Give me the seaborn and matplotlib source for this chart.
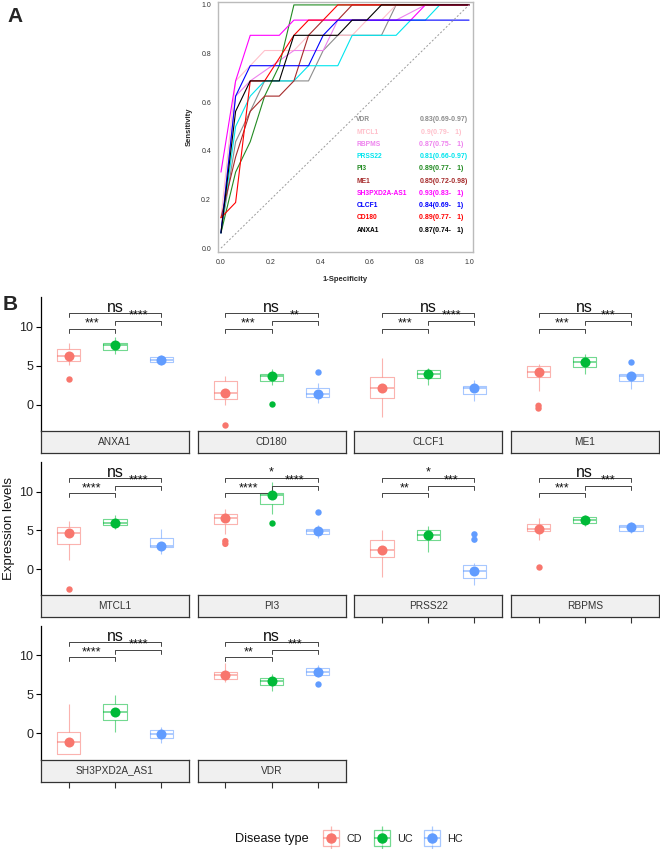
import numpy as np
import pandas as pd
import seaborn as sns
import matplotlib.pyplot as plt
from matplotlib.lines import Line2D
from matplotlib.legend_handler import HandlerTuple

sns.set_theme(style='white')
plt.rcParams['font.family'] = ['Liberation Sans', 'DejaVu Sans']

W, H = 660, 849

# ---- panel A: ROC curves (1-specificity, sensitivity) ----
anxa1_fpr = [0, 0.059, 0.118, 0.235, 0.294, 0.353, 0.471, 0.529, 0.588, 0.647, 1]
anxa1_tpr = [0.0625, 0.5625, 0.6875, 0.6875, 0.875, 0.875, 0.875, 0.9375, 0.9375, 1, 1]
cd180_fpr = [0, 0.059, 0.118, 0.176, 0.294, 0.353, 0.412, 0.471, 1]
cd180_tpr = [0.125, 0.1875, 0.6875, 0.6875, 0.875, 0.9375, 0.9375, 1, 1]
clcf1_fpr = [0, 0.059, 0.118, 0.353, 0.412, 0.471, 1]
clcf1_tpr = [0.0625, 0.625, 0.75, 0.75, 0.875, 0.9375, 0.9375]
sh3_fpr = [0, 0.059, 0.118, 0.235, 0.294, 0.765, 0.824, 1]
sh3_tpr = [0.3125, 0.6875, 0.875, 0.875, 0.9375, 0.9375, 1, 1]
me1_fpr = [0, 0.059, 0.118, 0.176, 0.235, 0.294, 0.353, 0.412, 0.471, 0.529, 1]
me1_tpr = [0.125, 0.375, 0.5625, 0.625, 0.625, 0.6875, 0.875, 0.9375, 0.9375, 1, 1]
pi3_fpr = [0, 0.059, 0.118, 0.176, 0.235, 0.294, 1]
pi3_tpr = [0.0625, 0.3125, 0.4375, 0.625, 0.75, 1, 1]
prss22_fpr = [0, 0.059, 0.118, 0.176, 0.294, 0.353, 0.471, 0.529, 0.706, 0.765, 0.824, 0.882, 1]
prss22_tpr = [0.0625, 0.5, 0.625, 0.6875, 0.6875, 0.75, 0.75, 0.875, 0.875, 0.9375, 0.9375, 1, 1]
rbpms_fpr = [0, 0.059, 0.118, 0.294, 0.412, 0.471, 0.706, 0.824, 1]
rbpms_tpr = [0.0625, 0.625, 0.6875, 0.8125, 0.8125, 0.9375, 0.9375, 1, 1]
mtcl1_fpr = [0, 0.059, 0.118, 0.176, 0.294, 0.353, 0.529, 0.588, 0.647, 0.706, 1]
mtcl1_tpr = [0.125, 0.6875, 0.75, 0.8125, 0.8125, 0.875, 0.875, 0.9375, 0.9375, 1, 1]
vdr_fpr = [0, 0.059, 0.118, 0.176, 0.353, 0.412, 0.471, 0.647, 0.706, 1]
vdr_tpr = [0.0625, 0.4375, 0.5625, 0.6875, 0.6875, 0.8125, 0.875, 0.875, 1, 1]

roc_genes = ['VDR', 'MTCL1', 'RBPMS', 'PRSS22', 'PI3', 'ME1', 'SH3PXD2A-AS1', 'CLCF1', 'CD180', 'ANXA1']
roc_colors = ['#8C8C8C', '#FFC0CB', '#EE82EE', '#00E5EE', '#228B22', '#A52A2A',
              '#FF00FF', '#0000FF', '#FF0000', '#000000']
auc_text = ['0.83(0.69-0.97)', ' 0.9(0.79-   1)', '0.87(0.75-   1)', '0.81(0.66-0.97)',
            '0.89(0.77-   1)', '0.85(0.72-0.98)', '0.93(0.83-   1)', '0.84(0.69-   1)',
            '0.89(0.77-   1)', '0.87(0.74-   1)']

roc_pts = {'ANXA1': (anxa1_fpr, anxa1_tpr), 'CD180': (cd180_fpr, cd180_tpr),
           'CLCF1': (clcf1_fpr, clcf1_tpr), 'SH3PXD2A-AS1': (sh3_fpr, sh3_tpr),
           'ME1': (me1_fpr, me1_tpr), 'PI3': (pi3_fpr, pi3_tpr),
           'PRSS22': (prss22_fpr, prss22_tpr), 'RBPMS': (rbpms_fpr, rbpms_tpr),
           'MTCL1': (mtcl1_fpr, mtcl1_tpr), 'VDR': (vdr_fpr, vdr_tpr)}
roc_df = pd.concat([pd.DataFrame({'gene': g, 'fpr': f, 'tpr': t}) for g, (f, t) in roc_pts.items()])

# ---- panel B: expression boxplots (CD, UC, HC) ----
genes = ['ANXA1', 'CD180', 'CLCF1', 'ME1', 'MTCL1', 'PI3', 'PRSS22', 'RBPMS', 'SH3PXD2A_AS1', 'VDR']
groups = ['CD', 'UC', 'HC']
group_colors = ['#F8766D', '#00BA38', '#619CFF']

wlow = [[5.1, 6.5, 5.13], [0.0, 2.56, 0.17], [-1.62, 2.52, 0.51], [1.79, 3.89, 1.97],
        [1.23, 5.15, 2.0], [4.47, 7.1, 4.04], [-1.06, 2.21, -2.04], [3.79, 5.49, 4.68],
        [-2.68, 0.13, -1.28], [6.55, 5.4, 7.23]]
q1 = [[5.56, 7.05, 5.43], [0.77, 2.99, 0.98], [0.81, 3.38, 1.41], [3.5, 4.79, 3.03],
      [3.28, 5.66, 2.85], [5.83, 8.38, 4.55], [1.49, 3.79, -1.19], [4.85, 5.96, 4.94],
      [-2.68, 1.66, -0.55], [6.98, 6.26, 7.53]]
med = [[6.28, 7.65, 5.73], [1.45, 3.63, 1.32], [2.09, 3.97, 2.14], [4.19, 5.47, 3.68],
       [4.64, 6.0, 3.02], [6.55, 9.53, 4.89], [2.43, 4.34, -0.26], [5.23, 6.34, 5.4],
       [-1.15, 2.77, -0.04], [7.49, 6.72, 7.87]]
q3 = [[7.09, 7.9, 6.07], [3.0, 3.89, 2.18], [3.5, 4.44, 2.39], [4.96, 6.07, 3.93],
      [5.4, 6.47, 4.04], [7.1, 9.87, 5.19], [3.79, 4.98, 0.51], [5.83, 6.72, 5.74],
      [0.21, 3.74, 0.38], [7.87, 7.15, 8.43]]
whigh = [[7.95, 8.63, 6.4], [3.67, 4.53, 2.74], [5.94, 4.66, 3.16], [5.17, 6.5, 4.1],
         [6.26, 7.02, 5.19], [7.74, 11.28, 5.74], [5.1, 5.49, 0.72], [6.6, 6.98, 6.09],
         [3.74, 4.89, 0.81], [9.0, 7.66, 8.72]]

out_gene = ['ANXA1', 'CD180', 'CD180', 'CD180', 'ME1', 'ME1', 'ME1', 'MTCL1', 'PI3', 'PI3',
            'PI3', 'PI3', 'PRSS22', 'PRSS22', 'RBPMS', 'VDR']
out_group = ['CD', 'CD', 'UC', 'HC', 'CD', 'CD', 'HC', 'CD', 'CD', 'CD',
             'UC', 'HC', 'HC', 'HC', 'CD', 'HC']
out_value = [3.33, -2.65, 0.09, 4.19, -0.15, -0.5, 5.43, -2.64, 3.6, 3.25,
             5.96, 7.4, 4.47, 3.79, 0.3, 6.3]

# significance labels: CD-UC, UC-HC, CD-HC
sig_cd_uc = ['***', '***', '***', '***', '****', '****', '**', '***', '****', '**']
sig_uc_hc = ['****', '**', '****', '***', '****', '****', '***', '***', '****', '***']
sig_cd_hc = ['ns', 'ns', 'ns', 'ns', 'ns', '*', '*', 'ns', 'ns', 'ns']

rows = []
for gi, g in enumerate(genes):
    for k, grp in enumerate(groups):
        for v in (wlow[gi][k], q1[gi][k], med[gi][k], q3[gi][k], whigh[gi][k]):
            rows.append((g, grp, v))
box_df = pd.DataFrame(rows, columns=['gene', 'group', 'value'])
out_df = pd.DataFrame({'gene': out_gene, 'group': out_group, 'value': out_value})
pal = dict(zip(groups, group_colors))


def px_axes(fig, l, t, r, b):
    return fig.add_axes([l / W, 1 - b / H, (r - l) / W, (b - t) / H])


fig = plt.figure(figsize=(W / 100, H / 100), dpi=100)

# ---------- A ----------
axA = px_axes(fig, 218, 2, 473, 252)
sns.lineplot(data=roc_df, x='fpr', y='tpr', hue='gene', hue_order=roc_genes,
             palette=roc_colors, sort=False, estimator=None, legend=False,
             linewidth=0.8, ax=axA)
axA.plot([0, 1], [0, 1], ls=(0, (2, 2)), color='#9A9A9A', lw=0.7)
axA.set_xlim(-0.012, 1.016)
axA.set_ylim(-0.016, 1.012)
axA.set_xticks(np.arange(0, 1.01, 0.2))
axA.set_yticks(np.arange(0, 1.01, 0.2))
axA.set_xticklabels([f'{v:.1f}' for v in np.arange(0, 1.01, 0.2)])
axA.set_yticklabels([f'{v:.1f}' for v in np.arange(0, 1.01, 0.2)])
axA.tick_params(labelsize=5, length=2, width=0.5, color='#888888', labelcolor='#333333', pad=3)
for s in axA.spines.values():
    s.set_color('#BBBBBB')
    s.set_linewidth(1.0)
axA.set_xlabel('1-Specificity', fontsize=5.5, fontweight='bold', labelpad=7)
axA.set_ylabel('Sensitivity', fontsize=5.5, fontweight='bold', labelpad=6)
for i, (g, c, a) in enumerate(zip(roc_genes, roc_colors, auc_text)):
    yy = 0.527 - i * 0.0503
    axA.text(0.546, yy, g, color=c, fontsize=4.8, fontweight='bold', va='center')
    axA.text(0.80, yy, a, color=c, fontsize=5.0, fontweight='bold', va='center')
fig.text(15 / W, 1 - 17 / H, 'A', fontsize=15, fontweight='bold', ha='center', va='center')

# ---------- B ----------
col_left = [41, 197.6, 354.2, 510.8]
panel_w = 148
row_tb = [(296.7, 430.7), (461.7, 595.0), (625.5, 759.5)]
strip_h = 22
ylim = (-3.35, 13.85)
br_y = [9.75, 10.75, 11.75]
tip = 0.5

for gi, g in enumerate(genes):
    r, c = divmod(gi, 4)
    l = col_left[c]
    t, b = row_tb[r]
    ax = px_axes(fig, l, t, l + panel_w, b)
    sub = box_df[box_df.gene == g]
    sns.boxplot(data=sub, x='group', y='value', hue='group', order=groups, hue_order=groups,
                palette=pal, fill=False, width=0.5, whis=(0, 100), showcaps=False,
                fliersize=0, linewidth=0.8, legend=False, ax=ax,
                medianprops=dict(linewidth=1.3))
    for art in list(ax.patches) + list(ax.lines):
        art.set_alpha(0.55)
    osub = out_df[out_df.gene == g]
    if len(osub):
        sns.stripplot(data=osub, x='group', y='value', hue='group', order=groups,
                      hue_order=groups, palette=pal, jitter=False, size=4.6,
                      legend=False, ax=ax, zorder=3)
    msub = sub.groupby('group', as_index=False)['value'].median()
    sns.stripplot(data=msub, x='group', y='value', hue='group', order=groups,
                  hue_order=groups, palette=pal, jitter=False, size=7.2,
                  legend=False, ax=ax, zorder=4)

    # brackets
    for (x0, x1), yb, lab in [((0, 1), br_y[0], sig_cd_uc[gi]),
                              ((1, 2), br_y[1], sig_uc_hc[gi]),
                              ((0, 2), br_y[2], sig_cd_hc[gi])]:
        ax.plot([x0, x0, x1, x1], [yb - tip, yb, yb, yb - tip], color='#444444', lw=0.7)
        if lab == 'ns':
            ax.text((x0 + x1) / 2, yb + 0.08, lab, ha='center', va='baseline',
                    fontsize=11.5, color='#111111')
        else:
            ax.text((x0 + x1) / 2, yb + 0.3, lab, ha='center', va='baseline',
                    fontsize=9, color='#111111')

    ax.set_xlim(-0.6, 2.6)
    ax.set_ylim(*ylim)
    ax.set_xlabel('')
    ax.set_ylabel('')
    ax.set_xticks([])
    ax.set_facecolor('white')
    for s in ['top', 'right', 'bottom']:
        ax.spines[s].set_visible(False)
    if c == 0:
        ax.spines['left'].set_color('black')
        ax.spines['left'].set_linewidth(0.9)
        ax.set_yticks([0, 5, 10])
        ax.tick_params(axis='y', left=True, length=3.5, width=0.8, color='black',
                       labelsize=9, labelcolor='#222222', pad=2)
    else:
        ax.spines['left'].set_visible(False)
        ax.set_yticks([])

    sax = px_axes(fig, l, b, l + panel_w, b + strip_h)
    sax.set_facecolor('#F0F0F0')
    for s in sax.spines.values():
        s.set_color('#333333')
        s.set_linewidth(0.9)
    sax.set_xlim(-0.6, 2.6)
    sax.set_yticks([])
    if gi >= 6:
        sax.set_xticks([0, 1, 2])
        sax.set_xticklabels([])
        sax.tick_params(axis='x', bottom=True, length=4, width=0.8, color='#333333')
    else:
        sax.set_xticks([])
    sax.text(0.5, 0.5, g, transform=sax.transAxes, ha='center', va='center',
             fontsize=7.3, color='#333333')

fig.text(10 / W, 1 - 305 / H, 'B', fontsize=15, fontweight='bold', ha='center', va='center')
fig.text(9 / W, 1 - 528 / H, 'Expression levels', rotation=90, fontsize=9.5,
         ha='center', va='center', color='#111111')

# legend
handles = []
for col in group_colors:
    handles.append((Line2D([], [], ls='none', marker='|', markersize=17, mew=0.9, color=col, alpha=0.55),
                    Line2D([], [], ls='none', marker='s', markersize=12, mfc='white', mec=col, mew=0.9, alpha=0.55),
                    Line2D([], [], ls='none', marker='_', markersize=12, mew=1.2, color=col, alpha=0.6),
                    Line2D([], [], ls='none', marker='o', markersize=6.5, color=col)))
fig.legend(handles, groups, handler_map={tuple: HandlerTuple(ndivide=1)},
           loc='center left', bbox_to_anchor=(313 / W, 1 - 839 / H), ncol=3,
           frameon=False, fontsize=7.8, handlelength=1.6, handletextpad=0.6,
           columnspacing=1.0)
fig.text(235 / W, 1 - 839 / H, 'Disease type', fontsize=9.2, ha='left', va='center',
         color='#111111')

fig.savefig('out.png', dpi=100)
